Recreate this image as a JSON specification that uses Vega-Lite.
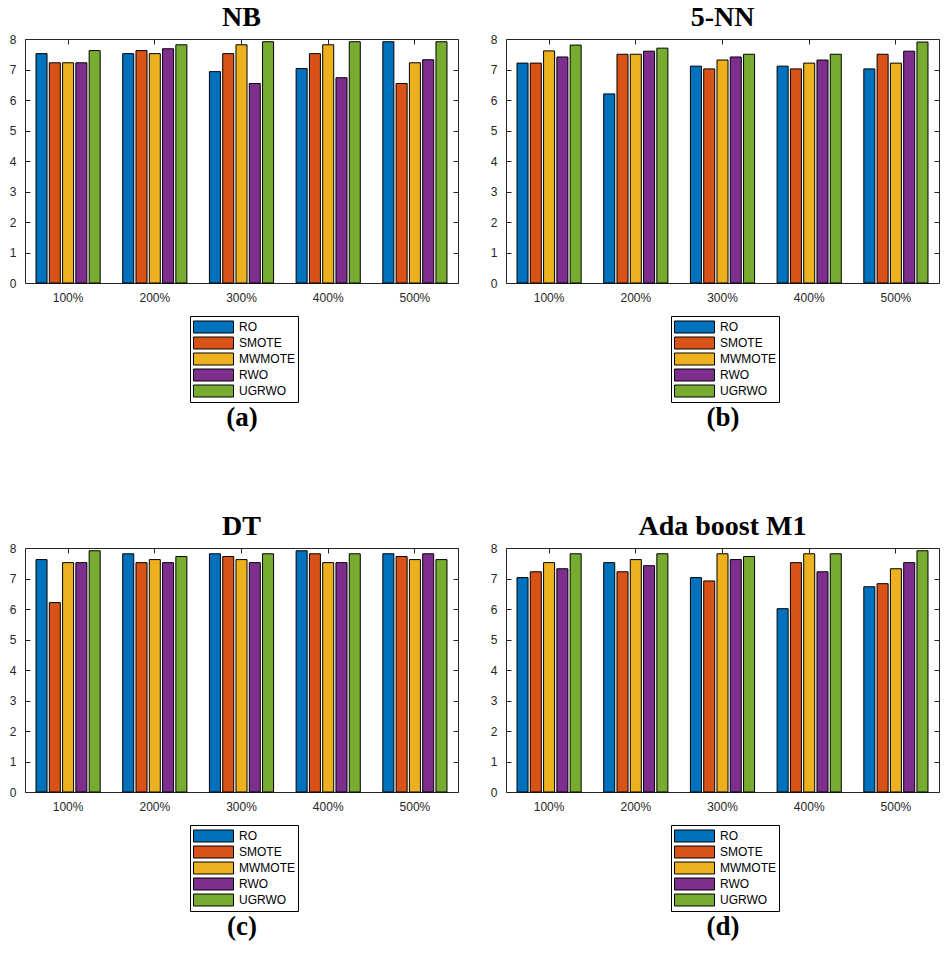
{
  "$schema": "https://vega.github.io/schema/vega-lite/v6.json",
  "background": "white",
  "padding": {"left": 8, "top": 3, "right": 5, "bottom": 5},
  "data": {"values": [
    {"clf":"NB","rate":"100%","method":"RO","value":7.52},
    {"clf":"NB","rate":"100%","method":"SMOTE","value":7.22},
    {"clf":"NB","rate":"100%","method":"MWMOTE","value":7.22},
    {"clf":"NB","rate":"100%","method":"RWO","value":7.22},
    {"clf":"NB","rate":"100%","method":"UGRWO","value":7.62},
    {"clf":"NB","rate":"200%","method":"RO","value":7.52},
    {"clf":"NB","rate":"200%","method":"SMOTE","value":7.62},
    {"clf":"NB","rate":"200%","method":"MWMOTE","value":7.52},
    {"clf":"NB","rate":"200%","method":"RWO","value":7.68},
    {"clf":"NB","rate":"200%","method":"UGRWO","value":7.81},
    {"clf":"NB","rate":"300%","method":"RO","value":6.93},
    {"clf":"NB","rate":"300%","method":"SMOTE","value":7.52},
    {"clf":"NB","rate":"300%","method":"MWMOTE","value":7.81},
    {"clf":"NB","rate":"300%","method":"RWO","value":6.54},
    {"clf":"NB","rate":"300%","method":"UGRWO","value":7.91},
    {"clf":"NB","rate":"400%","method":"RO","value":7.03},
    {"clf":"NB","rate":"400%","method":"SMOTE","value":7.52},
    {"clf":"NB","rate":"400%","method":"MWMOTE","value":7.81},
    {"clf":"NB","rate":"400%","method":"RWO","value":6.73},
    {"clf":"NB","rate":"400%","method":"UGRWO","value":7.91},
    {"clf":"NB","rate":"500%","method":"RO","value":7.91},
    {"clf":"NB","rate":"500%","method":"SMOTE","value":6.54},
    {"clf":"NB","rate":"500%","method":"MWMOTE","value":7.22},
    {"clf":"NB","rate":"500%","method":"RWO","value":7.32},
    {"clf":"NB","rate":"500%","method":"UGRWO","value":7.91},
    {"clf":"5-NN","rate":"100%","method":"RO","value":7.21},
    {"clf":"5-NN","rate":"100%","method":"SMOTE","value":7.21},
    {"clf":"5-NN","rate":"100%","method":"MWMOTE","value":7.61},
    {"clf":"5-NN","rate":"100%","method":"RWO","value":7.41},
    {"clf":"5-NN","rate":"100%","method":"UGRWO","value":7.8},
    {"clf":"5-NN","rate":"200%","method":"RO","value":6.2},
    {"clf":"5-NN","rate":"200%","method":"SMOTE","value":7.5},
    {"clf":"5-NN","rate":"200%","method":"MWMOTE","value":7.5},
    {"clf":"5-NN","rate":"200%","method":"RWO","value":7.6},
    {"clf":"5-NN","rate":"200%","method":"UGRWO","value":7.7},
    {"clf":"5-NN","rate":"300%","method":"RO","value":7.11},
    {"clf":"5-NN","rate":"300%","method":"SMOTE","value":7.02},
    {"clf":"5-NN","rate":"300%","method":"MWMOTE","value":7.31},
    {"clf":"5-NN","rate":"300%","method":"RWO","value":7.41},
    {"clf":"5-NN","rate":"300%","method":"UGRWO","value":7.5},
    {"clf":"5-NN","rate":"400%","method":"RO","value":7.11},
    {"clf":"5-NN","rate":"400%","method":"SMOTE","value":7.02},
    {"clf":"5-NN","rate":"400%","method":"MWMOTE","value":7.21},
    {"clf":"5-NN","rate":"400%","method":"RWO","value":7.31},
    {"clf":"5-NN","rate":"400%","method":"UGRWO","value":7.5},
    {"clf":"5-NN","rate":"500%","method":"RO","value":7.02},
    {"clf":"5-NN","rate":"500%","method":"SMOTE","value":7.5},
    {"clf":"5-NN","rate":"500%","method":"MWMOTE","value":7.21},
    {"clf":"5-NN","rate":"500%","method":"RWO","value":7.6},
    {"clf":"5-NN","rate":"500%","method":"UGRWO","value":7.9},
    {"clf":"DT","rate":"100%","method":"RO","value":7.62},
    {"clf":"DT","rate":"100%","method":"SMOTE","value":6.21},
    {"clf":"DT","rate":"100%","method":"MWMOTE","value":7.52},
    {"clf":"DT","rate":"100%","method":"RWO","value":7.52},
    {"clf":"DT","rate":"100%","method":"UGRWO","value":7.91},
    {"clf":"DT","rate":"200%","method":"RO","value":7.81},
    {"clf":"DT","rate":"200%","method":"SMOTE","value":7.52},
    {"clf":"DT","rate":"200%","method":"MWMOTE","value":7.62},
    {"clf":"DT","rate":"200%","method":"RWO","value":7.52},
    {"clf":"DT","rate":"200%","method":"UGRWO","value":7.72},
    {"clf":"DT","rate":"300%","method":"RO","value":7.81},
    {"clf":"DT","rate":"300%","method":"SMOTE","value":7.72},
    {"clf":"DT","rate":"300%","method":"MWMOTE","value":7.62},
    {"clf":"DT","rate":"300%","method":"RWO","value":7.52},
    {"clf":"DT","rate":"300%","method":"UGRWO","value":7.81},
    {"clf":"DT","rate":"400%","method":"RO","value":7.91},
    {"clf":"DT","rate":"400%","method":"SMOTE","value":7.81},
    {"clf":"DT","rate":"400%","method":"MWMOTE","value":7.52},
    {"clf":"DT","rate":"400%","method":"RWO","value":7.52},
    {"clf":"DT","rate":"400%","method":"UGRWO","value":7.81},
    {"clf":"DT","rate":"500%","method":"RO","value":7.81},
    {"clf":"DT","rate":"500%","method":"SMOTE","value":7.72},
    {"clf":"DT","rate":"500%","method":"MWMOTE","value":7.62},
    {"clf":"DT","rate":"500%","method":"RWO","value":7.81},
    {"clf":"DT","rate":"500%","method":"UGRWO","value":7.62},
    {"clf":"Ada","rate":"100%","method":"RO","value":7.03},
    {"clf":"Ada","rate":"100%","method":"SMOTE","value":7.22},
    {"clf":"Ada","rate":"100%","method":"MWMOTE","value":7.52},
    {"clf":"Ada","rate":"100%","method":"RWO","value":7.32},
    {"clf":"Ada","rate":"100%","method":"UGRWO","value":7.81},
    {"clf":"Ada","rate":"200%","method":"RO","value":7.52},
    {"clf":"Ada","rate":"200%","method":"SMOTE","value":7.22},
    {"clf":"Ada","rate":"200%","method":"MWMOTE","value":7.62},
    {"clf":"Ada","rate":"200%","method":"RWO","value":7.42},
    {"clf":"Ada","rate":"200%","method":"UGRWO","value":7.81},
    {"clf":"Ada","rate":"300%","method":"RO","value":7.03},
    {"clf":"Ada","rate":"300%","method":"SMOTE","value":6.92},
    {"clf":"Ada","rate":"300%","method":"MWMOTE","value":7.81},
    {"clf":"Ada","rate":"300%","method":"RWO","value":7.62},
    {"clf":"Ada","rate":"300%","method":"UGRWO","value":7.72},
    {"clf":"Ada","rate":"400%","method":"RO","value":6.01},
    {"clf":"Ada","rate":"400%","method":"SMOTE","value":7.52},
    {"clf":"Ada","rate":"400%","method":"MWMOTE","value":7.81},
    {"clf":"Ada","rate":"400%","method":"RWO","value":7.22},
    {"clf":"Ada","rate":"400%","method":"UGRWO","value":7.81},
    {"clf":"Ada","rate":"500%","method":"RO","value":6.73},
    {"clf":"Ada","rate":"500%","method":"SMOTE","value":6.83},
    {"clf":"Ada","rate":"500%","method":"MWMOTE","value":7.32},
    {"clf":"Ada","rate":"500%","method":"RWO","value":7.52},
    {"clf":"Ada","rate":"500%","method":"UGRWO","value":7.91}
  ]},
  "columns": 2,
  "spacing": {"column": 30, "row": 81},
  "resolve": {"scale": {"color": "independent"}, "legend": {"color": "independent"}},
  "concat": [
    {
      "width": 433, "height": 244,
      "title": {"text": "NB"},
      "transform": [{"filter": "datum.clf === 'NB'"}],
      "layer": [
        {
          "mark": {"type": "bar", "stroke": "black", "strokeWidth": 1},
          "encoding": {
            "x": {"field": "rate", "type": "nominal", "scale": {"paddingInner": 0.26, "paddingOuter": 0.127}, "axis": {"title": "(a)"}},
            "xOffset": {"field": "method", "type": "nominal", "sort": ["RO","SMOTE","MWMOTE","RWO","UGRWO"], "scale": {"paddingInner": 0.17, "paddingOuter": 0}},
            "y": {"field": "value", "type": "quantitative", "scale": {"domain": [0, 8], "nice": false}, "axis": {"title": null, "values": [0,1,2,3,4,5,6,7,8]}},
            "color": {"field": "method", "type": "nominal", "scale": {"domain": ["RO","SMOTE","MWMOTE","RWO","UGRWO"], "range": ["#0072BD","#D95319","#EDB120","#7E2F8E","#77AC30"]}, "legend": {"title": null, "orient": "none", "legendX": 165, "legendY": 277}}
          }
        },
        {
          "mark": {"type": "bar", "opacity": 0},
          "encoding": {
            "x": {"field": "rate", "type": "nominal", "axis": {"orient": "top", "labels": false, "title": null}},
            "xOffset": {"field": "method", "type": "nominal", "sort": ["RO","SMOTE","MWMOTE","RWO","UGRWO"]},
            "y": {"field": "value", "type": "quantitative", "axis": {"orient": "right", "labels": false, "title": null, "values": [0,1,2,3,4,5,6,7,8]}}
          }
        }
      ],
      "resolve": {"axis": {"x": "independent", "y": "independent"}}
    },
    {
      "width": 433, "height": 244,
      "title": {"text": "5-NN"},
      "transform": [{"filter": "datum.clf === '5-NN'"}],
      "layer": [
        {
          "mark": {"type": "bar", "stroke": "black", "strokeWidth": 1},
          "encoding": {
            "x": {"field": "rate", "type": "nominal", "scale": {"paddingInner": 0.26, "paddingOuter": 0.127}, "axis": {"title": "(b)"}},
            "xOffset": {"field": "method", "type": "nominal", "sort": ["RO","SMOTE","MWMOTE","RWO","UGRWO"], "scale": {"paddingInner": 0.17, "paddingOuter": 0}},
            "y": {"field": "value", "type": "quantitative", "scale": {"domain": [0, 8], "nice": false}, "axis": {"title": null, "values": [0,1,2,3,4,5,6,7,8]}},
            "color": {"field": "method", "type": "nominal", "scale": {"domain": ["RO","SMOTE","MWMOTE","RWO","UGRWO"], "range": ["#0072BD","#D95319","#EDB120","#7E2F8E","#77AC30"]}, "legend": {"title": null, "orient": "none", "legendX": 165, "legendY": 277}}
          }
        },
        {
          "mark": {"type": "bar", "opacity": 0},
          "encoding": {
            "x": {"field": "rate", "type": "nominal", "axis": {"orient": "top", "labels": false, "title": null}},
            "xOffset": {"field": "method", "type": "nominal", "sort": ["RO","SMOTE","MWMOTE","RWO","UGRWO"]},
            "y": {"field": "value", "type": "quantitative", "axis": {"orient": "right", "labels": false, "title": null, "values": [0,1,2,3,4,5,6,7,8]}}
          }
        }
      ],
      "resolve": {"axis": {"x": "independent", "y": "independent"}}
    },
    {
      "width": 433, "height": 244,
      "title": {"text": "DT"},
      "transform": [{"filter": "datum.clf === 'DT'"}],
      "layer": [
        {
          "mark": {"type": "bar", "stroke": "black", "strokeWidth": 1},
          "encoding": {
            "x": {"field": "rate", "type": "nominal", "scale": {"paddingInner": 0.26, "paddingOuter": 0.127}, "axis": {"title": "(c)"}},
            "xOffset": {"field": "method", "type": "nominal", "sort": ["RO","SMOTE","MWMOTE","RWO","UGRWO"], "scale": {"paddingInner": 0.17, "paddingOuter": 0}},
            "y": {"field": "value", "type": "quantitative", "scale": {"domain": [0, 8], "nice": false}, "axis": {"title": null, "values": [0,1,2,3,4,5,6,7,8]}},
            "color": {"field": "method", "type": "nominal", "scale": {"domain": ["RO","SMOTE","MWMOTE","RWO","UGRWO"], "range": ["#0072BD","#D95319","#EDB120","#7E2F8E","#77AC30"]}, "legend": {"title": null, "orient": "none", "legendX": 165, "legendY": 277}}
          }
        },
        {
          "mark": {"type": "bar", "opacity": 0},
          "encoding": {
            "x": {"field": "rate", "type": "nominal", "axis": {"orient": "top", "labels": false, "title": null}},
            "xOffset": {"field": "method", "type": "nominal", "sort": ["RO","SMOTE","MWMOTE","RWO","UGRWO"]},
            "y": {"field": "value", "type": "quantitative", "axis": {"orient": "right", "labels": false, "title": null, "values": [0,1,2,3,4,5,6,7,8]}}
          }
        }
      ],
      "resolve": {"axis": {"x": "independent", "y": "independent"}}
    },
    {
      "width": 433, "height": 244,
      "title": {"text": "Ada boost M1"},
      "transform": [{"filter": "datum.clf === 'Ada'"}],
      "layer": [
        {
          "mark": {"type": "bar", "stroke": "black", "strokeWidth": 1},
          "encoding": {
            "x": {"field": "rate", "type": "nominal", "scale": {"paddingInner": 0.26, "paddingOuter": 0.127}, "axis": {"title": "(d)"}},
            "xOffset": {"field": "method", "type": "nominal", "sort": ["RO","SMOTE","MWMOTE","RWO","UGRWO"], "scale": {"paddingInner": 0.17, "paddingOuter": 0}},
            "y": {"field": "value", "type": "quantitative", "scale": {"domain": [0, 8], "nice": false}, "axis": {"title": null, "values": [0,1,2,3,4,5,6,7,8]}},
            "color": {"field": "method", "type": "nominal", "scale": {"domain": ["RO","SMOTE","MWMOTE","RWO","UGRWO"], "range": ["#0072BD","#D95319","#EDB120","#7E2F8E","#77AC30"]}, "legend": {"title": null, "orient": "none", "legendX": 165, "legendY": 277}}
          }
        },
        {
          "mark": {"type": "bar", "opacity": 0},
          "encoding": {
            "x": {"field": "rate", "type": "nominal", "axis": {"orient": "top", "labels": false, "title": null}},
            "xOffset": {"field": "method", "type": "nominal", "sort": ["RO","SMOTE","MWMOTE","RWO","UGRWO"]},
            "y": {"field": "value", "type": "quantitative", "axis": {"orient": "right", "labels": false, "title": null, "values": [0,1,2,3,4,5,6,7,8]}}
          }
        }
      ],
      "resolve": {"axis": {"x": "independent", "y": "independent"}}
    }
  ],
  "config": {
    "view": {"stroke": "#262626", "strokeWidth": 1},
    "title": {"font": "Liberation Serif", "fontSize": 28, "fontWeight": "bold", "color": "black", "anchor": "middle", "offset": 1},
    "axis": {
      "domain": false, "grid": false,
      "labelFont": "Liberation Sans", "labelFontSize": 12, "labelColor": "#262626",
      "tickColor": "#262626", "tickWidth": 1, "tickSize": -5,
      "labelPadding": 14,
      "titleFont": "Liberation Serif", "titleFontSize": 27, "titleFontWeight": "bold", "titleColor": "black"
    },
    "axisX": {"labelAngle": 0, "titlePadding": 101},
    "legend": {
      "direction": "vertical",
      "strokeColor": "black", "fillColor": "white", "padding": 3, "cornerRadius": 0,
      "symbolType": "M-1,-0.3L1,-0.3L1,0.3L-1,0.3Z", "symbolSize": 1600,
      "symbolStrokeColor": "black", "symbolStrokeWidth": 1, "symbolOpacity": 1,
      "clipHeight": 16, "rowPadding": 0,
      "labelFont": "Liberation Sans", "labelFontSize": 12, "labelColor": "black", "labelOffset": 5
    }
  }
}
